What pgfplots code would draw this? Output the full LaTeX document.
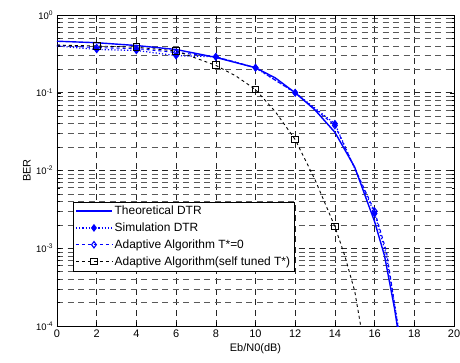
\documentclass[border=0pt]{standalone}
\usepackage{fontspec}
\setmainfont{Liberation Sans}
\usepackage{pgfplots}
\pgfplotsset{compat=1.18}
\begin{document}
\fontsize{11}{13}\selectfont
\begin{tikzpicture}
\useasboundingbox (-57bp,-37bp) rectangle (403bp,326bp);
\begin{axis}[
  at={(0,0)}, anchor=south west,
  scale only axis, width=397bp, height=311bp,
  ymode=log, xmin=0, xmax=20, ymin=1e-4, ymax=1,
  xtick={0,2,...,20},
  ytick={1e-4,1e-3,1e-2,1e-1,1},
  yticklabels={{10\textsuperscript{-4}},{10\textsuperscript{-3}},{10\textsuperscript{-2}},{10\textsuperscript{-1}},{10\textsuperscript{0}}},
  /pgf/number format/assume math mode=true,
  tick label style={font=\fontsize{11}{13}\selectfont},
  yticklabel style={font=\fontsize{9.5}{11}\selectfont},
  grid=both,
  major grid style={black!85, dash pattern=on 6bp off 4.5bp, line width=0.55bp},
  minor grid style={black!65, dash pattern=on 6bp off 4.5bp, line width=0.55bp},
  tick align=inside,
  major tick length=4bp, minor tick length=2.5bp,
  every tick/.style={black, line width=0.5bp},
  axis line style={black, line width=0.8bp},
  xlabel={Eb/N0(dB)}, ylabel={BER},
  label style={font=\fontsize{11}{13}\selectfont},
  xlabel style={yshift=2bp},
  ylabel style={yshift=-2bp},
  clip=true,
  legend style={at={(0.04,0.40)}, anchor=north west, draw=black, fill=white,
    font=\fontsize{12}{14}\selectfont, row sep=2.5bp, inner sep=2.2bp},
  legend cell align=left,
  legend image code/.code={\draw[#1, mark=none] (0bp,0bp) -- (36bp,0bp);
    \draw[#1, mark indices={1}] plot coordinates {(18bp,0bp)};},
]
% Theoretical DTR
\addplot[blue, line width=1.4bp, no marks] coordinates {
(0,0.46) (2,0.44) (4,0.405) (6,0.36) (8,0.285) (10,0.21) (11,0.155) (12,0.10)
(13,0.060) (14,0.031) (15,0.011) (16,0.0022) (16.5,0.0008) (17,0.00017) (17.2,0.00008)};
\addlegendentry{Theoretical DTR}
% Simulation DTR
\addplot[blue, line width=1.2bp, dotted, mark=diamond*, mark size=3bp,
  mark options={solid, fill=blue}, mark indices={2,3,4,5,6,7,8,9}] coordinates {
(0,0.40) (2,0.36) (4,0.35) (6,0.30) (8,0.29) (10,0.21) (12,0.10) (14,0.040)
(16,0.0028) (16.6,0.0008) (17.25,0.00008)};
\addlegendentry{Simulation DTR}
% Adaptive T*=0
\addplot[blue, line width=1.1bp, dashed, mark=diamond, mark size=3.2bp,
  mark options={solid}, mark indices={2,3,4,5,6,7,8,9}] coordinates {
(0,0.41) (2,0.38) (4,0.37) (6,0.33) (8,0.29) (10,0.21) (12,0.10) (14,0.038)
(16,0.0030) (16.6,0.0009) (17.2,0.00009)};
\addlegendentry{Adaptive Algorithm T*=0}
% Adaptive self tuned
\addplot[black, line width=0.9bp, dashed, mark=square, mark size=3.4bp,
  mark options={solid, line width=1bp}, mark indices={2,3,4,5,7,9,11}] coordinates {
(0,0.41) (2,0.40) (4,0.385) (6,0.345) (8,0.225) (9,0.165) (10,0.11) (11,0.057)
(12,0.025) (13,0.0076) (14,0.0019) (14.5,0.0008) (15,0.00028) (15.3,0.0001) (15.4,0.00007)};
\addlegendentry{Adaptive Algorithm(self tuned T*)}
\end{axis}
\end{tikzpicture}
\end{document}
